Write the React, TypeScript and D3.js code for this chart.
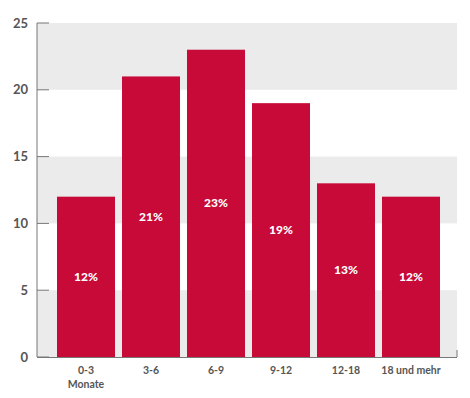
import React, { useEffect, useRef } from 'react';
import * as d3 from 'd3';

const categories = ['0-3 Monate', '3-6', '6-9', '9-12', '12-18', '18 und mehr'];
const values = [12, 21, 23, 19, 13, 12];
const percentLabels = ['12%', '21%', '23%', '19%', '13%', '12%'];
const yTicks = [0, 5, 10, 15, 20, 25];

const width = 470;
const height = 398;
const RED = '#c70a37';
const GREY = '#ebebeb';
const TEXT = '#555';

const App = () => {
  const ref = useRef<SVGSVGElement>(null);

  useEffect(() => {
    const svg = d3.select(ref.current);
    svg.selectAll('*').remove();

    const left = 37;
    const right = 457;
    const top = 23;
    const bottom = 357;

    const y = d3.scaleLinear().domain([0, 25]).range([bottom, top]);
    const x = d3
      .scaleBand()
      .domain(categories)
      .range([53.5, 443.5])
      .paddingInner(7 / 65)
      .paddingOuter(0.5 * 7 / 65);

    // grey bands
    const bands = [[0, 5], [10, 15], [20, 25]];
    svg
      .selectAll('rect.band')
      .data(bands)
      .enter()
      .append('rect')
      .attr('class', 'band')
      .attr('x', left)
      .attr('width', right - left)
      .attr('y', (d) => y(d[1]))
      .attr('height', (d) => y(d[0]) - y(d[1]))
      .attr('fill', GREY);

    // bars
    svg
      .selectAll('rect.bar')
      .data(values)
      .enter()
      .append('rect')
      .attr('class', 'bar')
      .attr('x', (d, i) => x(categories[i]) as number)
      .attr('width', x.bandwidth())
      .attr('y', (d) => y(d))
      .attr('height', (d) => y(0) - y(d))
      .attr('fill', RED);

    // percent labels
    svg
      .selectAll('text.pct')
      .data(values)
      .enter()
      .append('text')
      .attr('class', 'pct')
      .attr('x', (d, i) => (x(categories[i]) as number) + x.bandwidth() / 2)
      .attr('y', (d) => y(d / 2) + 4)
      .attr('text-anchor', 'middle')
      .attr('fill', '#fff')
      .style('font-family', 'Lato, sans-serif')
      .style('font-weight', 900)
      .style('font-size', '12px')
      .text((d, i) => percentLabels[i]);

    // y axis
    const yAxis = svg.append('g').attr('transform', `translate(${left},0)`);
    yAxis
      .append('line')
      .attr('x1', 0)
      .attr('x2', 0)
      .attr('y1', top)
      .attr('y2', bottom)
      .attr('stroke', '#777')
      .attr('stroke-width', 1);
    yAxis
      .selectAll('line.tick')
      .data(yTicks)
      .enter()
      .append('line')
      .attr('class', 'tick')
      .attr('x1', 0)
      .attr('x2', 12)
      .attr('y1', (d) => y(d))
      .attr('y2', (d) => y(d))
      .attr('stroke', '#777');
    yAxis
      .selectAll('text')
      .data(yTicks)
      .enter()
      .append('text')
      .attr('x', -9)
      .attr('y', (d) => y(d) + 4.5)
      .attr('text-anchor', 'end')
      .attr('fill', TEXT)
      .style('font-family', 'Lato, sans-serif')
      .style('font-weight', 700)
      .style('font-size', '13px')
      .text((d) => d);

    // baseline
    svg
      .append('line')
      .attr('x1', left)
      .attr('x2', right)
      .attr('y1', bottom + 0.5)
      .attr('y2', bottom + 0.5)
      .attr('stroke', '#777');
    svg
      .append('line')
      .attr('x1', right)
      .attr('x2', right)
      .attr('y1', bottom - 7)
      .attr('y2', bottom)
      .attr('stroke', '#777');

    // x labels
    const xl = svg
      .selectAll('text.xl')
      .data(categories)
      .enter()
      .append('text')
      .attr('class', 'xl')
      .attr('x', (d) => (x(d) as number) + x.bandwidth() / 2)
      .attr('y', 374)
      .attr('text-anchor', 'middle')
      .attr('fill', TEXT)
      .style('font-family', 'Lato, sans-serif')
      .style('font-weight', 700)
      .style('font-size', '10.5px');
    xl.each(function (d) {
      const parts = d === '0-3 Monate' ? ['0-3', 'Monate'] : [d];
      const t = d3.select(this);
      parts.forEach((p, i) => {
        t.append('tspan')
          .attr('x', (x(d) as number) + x.bandwidth() / 2)
          .attr('dy', i === 0 ? 0 : 14)
          .text(p);
      });
    });
  }, []);

  return (
    <svg
      ref={ref}
      width={width}
      height={height}
      style={{ position: 'absolute', left: 0, top: 0, background: '#fff' }}
    />
  );
};

export default App;
